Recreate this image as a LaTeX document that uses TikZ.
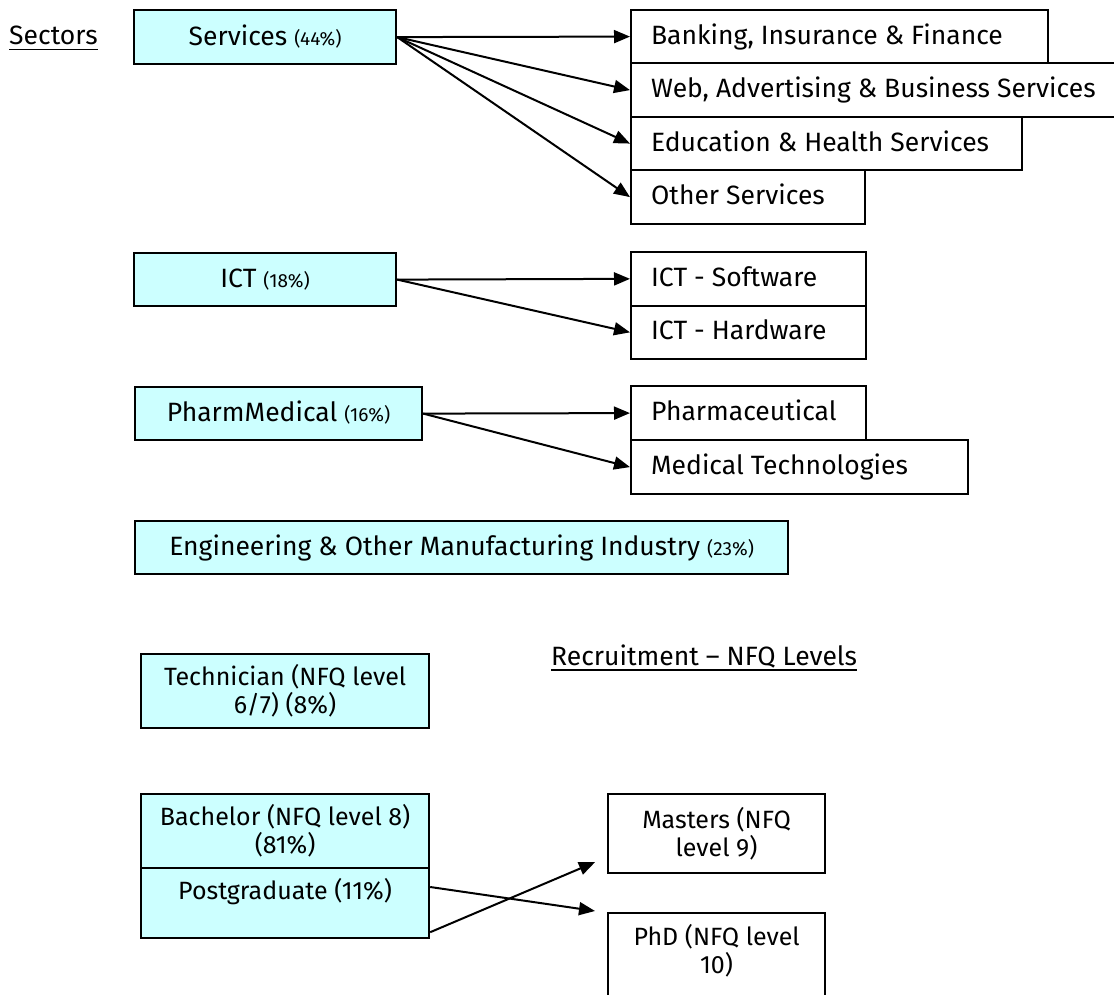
\documentclass[tikz,border=0pt]{standalone}
\usepackage{fontspec}
\setmainfont{Fira Sans}
\usetikzlibrary{arrows.meta,calc}
\definecolor{boxcyan}{HTML}{CCFFFF}
\newsavebox\myulbox
\newcommand\myul[1]{\sbox\myulbox{#1}\rlap{\rule[-5.5pt]{\wd\myulbox}{1.8pt}}\usebox\myulbox}
\newcommand\pct{\fontsize{19}{22}\selectfont}
\hyphenpenalty=10000
\begin{document}
\begin{tikzpicture}[x=1pt,y=-1pt,
  cbox/.style={draw, line width=2.2pt, fill=boxcyan, inner sep=0pt, align=center,
    anchor=north west, font=\fontsize{26.5}{30}\selectfont},
  cone/.style={cbox, text height=21pt, text depth=5pt},
  lbox/.style={draw, line width=2.2pt, fill=boxcyan, inner sep=0pt, align=center,
    anchor=north west, font=\fontsize{25}{28}\selectfont},
  wbox/.style={draw, line width=2.2pt, fill=white, inner xsep=20pt, inner ysep=0pt,
    align=flush left, anchor=north west, text height=20pt, text depth=5pt,
    font=\fontsize{26.5}{30}\selectfont},
  wlow/.style={draw, line width=2.2pt, fill=white, inner sep=0pt, align=center,
    anchor=north west, font=\fontsize{25}{28}\selectfont},
  title/.style={anchor=base west, inner sep=0pt, font=\fontsize{26.5}{30}\selectfont},
  conn/.style={-{Triangle[length=16pt,width=13pt]}, line width=2pt}
]
\useasboundingbox (0,0) rectangle (1114,995);

\node[title] (sectors) at (9,45) {\myul{Sectors}};
\node[title] (recruit) at (551,665) {\myul{Recruitment – NFQ Levels}};

% Sector boxes
\node[cone, minimum width=262pt, minimum height=54pt] (services) at (133,9) {Services {\pct (44\%)}};
\node[cone, minimum width=262pt, minimum height=53pt] (ict) at (133,252) {ICT {\pct (18\%)}};
\node[cone, minimum width=287pt, minimum height=53pt] (pharmmed) at (134,386) {PharmMedical {\pct (16\%)}};
\node[cone, minimum width=653pt, minimum height=53pt] (eng) at (134,520) {Engineering \& Other Manufacturing Industry {\pct (23\%)}};

% Sub-sector boxes
\node[wbox, text width=377pt, minimum height=53pt] (banking) at (630,9) {Banking, Insurance \& Finance};
\node[wbox, text width=470pt, minimum height=54pt] (web) at (630,62) {Web, Advertising \& Business Services};
\node[wbox, text width=351pt, minimum height=53pt] (edu) at (630,116) {Education \& Health Services};
\node[wbox, text width=194pt, minimum height=54pt] (other) at (630,169) {Other Services};

\node[wbox, text width=195pt, minimum height=53.5pt] (soft) at (630,251) {ICT - Software};
\node[wbox, text width=195pt, minimum height=53.5pt] (hard) at (630,304.5) {ICT - Hardware};

\node[wbox, text width=195pt, minimum height=54pt] (pharma) at (630,385) {Pharmaceutical};
\node[wbox, text width=297pt, minimum height=54pt] (medtech) at (630,439) {Medical Technologies};

% NFQ boxes
\node[lbox, minimum width=288pt, minimum height=74pt] (tech) at (140,653) {Technician (NFQ level\\6/7) (8\%)};
\node[lbox, minimum width=288pt, minimum height=74pt] (bach) at (140,793) {Bachelor (NFQ level 8)\\(81\%)};
\node[lbox, minimum width=288pt, minimum height=70pt, text height=18pt, text depth=25pt] (pg) at (140,867) {Postgraduate (11\%)};

\node[wlow, minimum width=217pt, minimum height=79pt] (masters) at (607,793) {Masters (NFQ\\level 9)};
\node[wlow, minimum width=217pt, minimum height=110pt,
  label={[name=phdtext, align=center, anchor=north, inner sep=0pt, yshift=-12pt,
          font=\fontsize{25}{28}\selectfont]north:PhD (NFQ level\\10)}] (phd) at (607,912) {};

% Connectors
\draw[conn] (services.east) -- (banking.west);
\draw[conn] (services.east) -- (web.west);
\draw[conn] (services.east) -- (edu.west);
\draw[conn] (services.east) -- (other.west);

\draw[conn] (ict.east) -- (soft.west);
\draw[conn] (ict.east) -- (hard.west);

\draw[conn] (pharmmed.east) -- (pharma.west);
\draw[conn] (pharmmed.east) -- (medtech.west);

\coordinate (pgA) at ($(pg.north east)+(0,20)$);
\coordinate (pgB) at ($(pg.south east)+(0,-7)$);
\coordinate (phdTip) at ($(phd.north west)+(-12,-1)$);
\coordinate (mTip) at ($(masters.south west)+(-12,-12)$);
\draw[conn] (pgA) -- (phdTip);
\draw[conn] (pgB) -- (mTip);
\end{tikzpicture}
\end{document}
